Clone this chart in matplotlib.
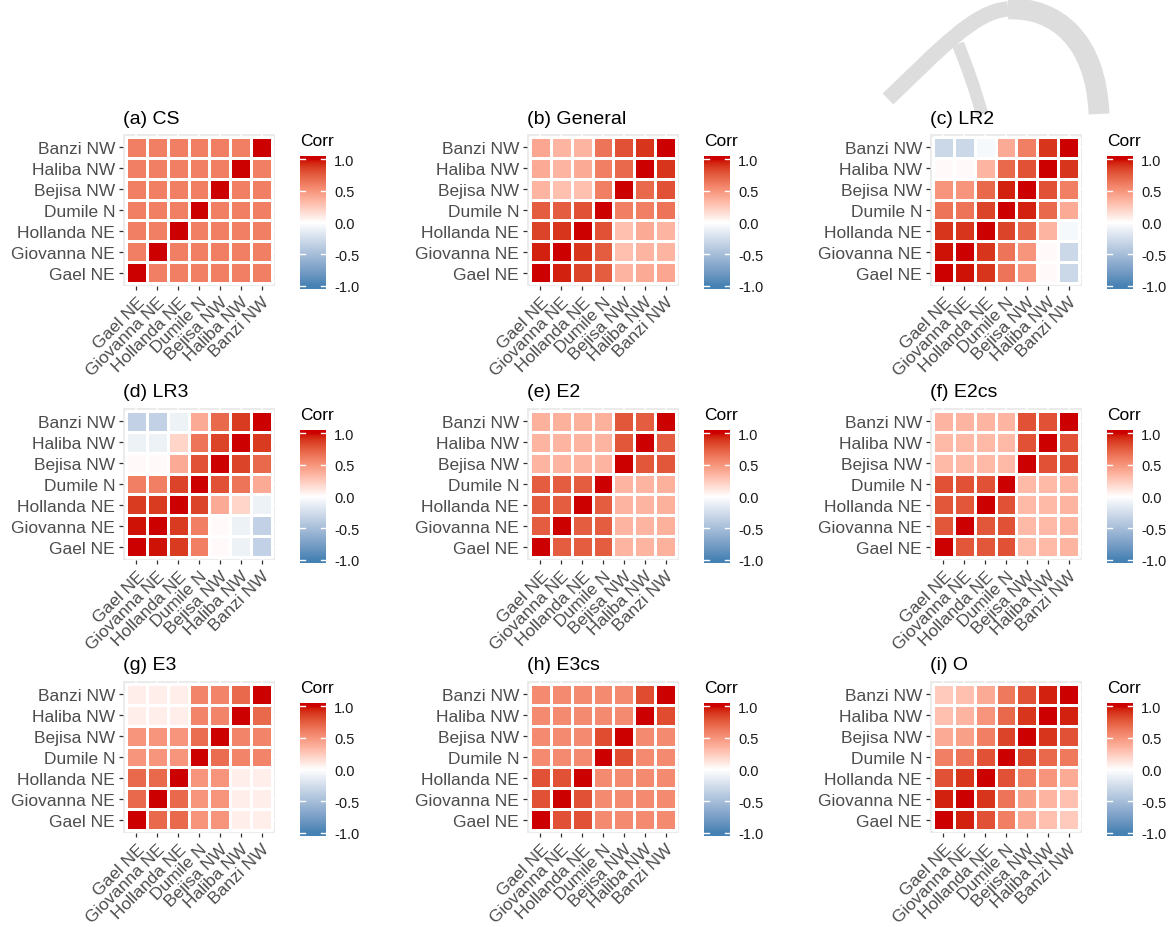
import numpy as np
import matplotlib
matplotlib.use("Agg")
import matplotlib.pyplot as plt
from matplotlib.colors import ListedColormap, Normalize
from matplotlib.path import Path
from matplotlib.patches import PathPatch

plt.rcParams['font.family'] = ['Liberation Sans', 'DejaVu Sans']

# ---------------------------------------------------------------- data
stations = ["Gael NE", "Giovanna NE", "Hollanda NE", "Dumile N",
            "Bejisa NW", "Haliba NW", "Banzi NW"]

cs = [
    [1.00, 0.60, 0.60, 0.60, 0.60, 0.60, 0.60],
    [0.60, 1.00, 0.60, 0.60, 0.60, 0.60, 0.60],
    [0.60, 0.60, 1.00, 0.60, 0.60, 0.60, 0.60],
    [0.60, 0.60, 0.60, 1.00, 0.60, 0.60, 0.60],
    [0.60, 0.60, 0.60, 0.60, 1.00, 0.60, 0.60],
    [0.60, 0.60, 0.60, 0.60, 0.60, 1.00, 0.60],
    [0.60, 0.60, 0.60, 0.60, 0.60, 0.60, 1.00],
]
general = [
    [1.00, 0.95, 0.85, 0.75, 0.35, 0.40, 0.42],
    [0.95, 1.00, 0.90, 0.75, 0.30, 0.35, 0.35],
    [0.85, 0.90, 1.00, 0.80, 0.30, 0.40, 0.35],
    [0.75, 0.75, 0.80, 1.00, 0.60, 0.60, 0.65],
    [0.35, 0.30, 0.30, 0.60, 1.00, 0.70, 0.80],
    [0.40, 0.35, 0.40, 0.60, 0.70, 1.00, 0.90],
    [0.42, 0.35, 0.35, 0.65, 0.80, 0.90, 1.00],
]
lr2 = [
    [1.00, 0.98, 0.90, 0.65, 0.50, 0.02, -0.30],
    [0.98, 1.00, 0.90, 0.65, 0.50, 0.02, -0.30],
    [0.90, 0.90, 1.00, 0.85, 0.70, 0.35, -0.05],
    [0.65, 0.65, 0.85, 1.00, 0.95, 0.70, 0.40],
    [0.50, 0.50, 0.70, 0.95, 1.00, 0.80, 0.60],
    [0.02, 0.02, 0.35, 0.70, 0.80, 1.00, 0.90],
    [-0.30, -0.30, -0.05, 0.40, 0.60, 0.90, 1.00],
]
lr3 = [
    [1.00, 0.98, 0.88, 0.60, 0.02, -0.10, -0.35],
    [0.98, 1.00, 0.88, 0.60, 0.02, -0.10, -0.35],
    [0.88, 0.88, 1.00, 0.85, 0.40, 0.20, -0.10],
    [0.60, 0.60, 0.85, 1.00, 0.80, 0.65, 0.40],
    [0.02, 0.02, 0.40, 0.80, 1.00, 0.85, 0.70],
    [-0.10, -0.10, 0.20, 0.65, 0.85, 1.00, 0.88],
    [-0.35, -0.35, -0.10, 0.40, 0.70, 0.88, 1.00],
]
e2 = [
    [1.00, 0.75, 0.75, 0.75, 0.35, 0.35, 0.37],
    [0.75, 1.00, 0.75, 0.75, 0.35, 0.35, 0.37],
    [0.75, 0.75, 1.00, 0.75, 0.35, 0.35, 0.37],
    [0.75, 0.75, 0.75, 1.00, 0.35, 0.35, 0.37],
    [0.35, 0.35, 0.35, 0.35, 1.00, 0.78, 0.78],
    [0.35, 0.35, 0.35, 0.35, 0.78, 1.00, 0.75],
    [0.37, 0.37, 0.37, 0.37, 0.78, 0.75, 1.00],
]
e2cs = [
    [1.00, 0.78, 0.78, 0.80, 0.33, 0.33, 0.35],
    [0.78, 1.00, 0.78, 0.80, 0.33, 0.33, 0.35],
    [0.78, 0.78, 1.00, 0.80, 0.33, 0.33, 0.35],
    [0.80, 0.80, 0.80, 1.00, 0.33, 0.33, 0.35],
    [0.33, 0.33, 0.33, 0.33, 1.00, 0.80, 0.80],
    [0.33, 0.33, 0.33, 0.33, 0.80, 1.00, 0.80],
    [0.35, 0.35, 0.35, 0.35, 0.80, 0.80, 1.00],
]
e3 = [
    [1.00, 0.70, 0.70, 0.50, 0.50, 0.08, 0.08],
    [0.70, 1.00, 0.70, 0.50, 0.50, 0.08, 0.08],
    [0.70, 0.70, 1.00, 0.50, 0.50, 0.08, 0.08],
    [0.50, 0.50, 0.50, 1.00, 0.68, 0.58, 0.58],
    [0.50, 0.50, 0.50, 0.68, 1.00, 0.58, 0.58],
    [0.08, 0.08, 0.08, 0.58, 0.58, 1.00, 0.70],
    [0.08, 0.08, 0.08, 0.58, 0.58, 0.70, 1.00],
]
e3cs = [
    [1.00, 0.80, 0.80, 0.55, 0.55, 0.55, 0.55],
    [0.80, 1.00, 0.80, 0.55, 0.55, 0.55, 0.55],
    [0.80, 0.80, 1.00, 0.55, 0.55, 0.55, 0.55],
    [0.55, 0.55, 0.55, 1.00, 0.82, 0.55, 0.55],
    [0.55, 0.55, 0.55, 0.82, 1.00, 0.55, 0.55],
    [0.55, 0.55, 0.55, 0.55, 0.55, 1.00, 0.82],
    [0.55, 0.55, 0.55, 0.55, 0.55, 0.82, 1.00],
]
o = [
    [1.00, 0.95, 0.80, 0.60, 0.40, 0.30, 0.25],
    [0.95, 1.00, 0.90, 0.65, 0.45, 0.35, 0.30],
    [0.80, 0.90, 1.00, 0.80, 0.60, 0.50, 0.40],
    [0.60, 0.65, 0.80, 1.00, 0.85, 0.70, 0.63],
    [0.40, 0.45, 0.60, 0.85, 1.00, 0.90, 0.80],
    [0.30, 0.35, 0.50, 0.70, 0.90, 1.00, 0.95],
    [0.25, 0.30, 0.40, 0.63, 0.80, 0.95, 1.00],
]

panel_titles = ["(a) CS", "(b) General", "(c) LR2",
                "(d) LR3", "(e) E2", "(f) E2cs",
                "(g) E3", "(h) E3cs", "(i) O"]
panel_data = [cs, general, lr2, lr3, e2, e2cs, e3, e3cs, o]
legend_breaks = [-1.0, -0.5, 0.0, 0.5, 1.0]
legend_labels = ["-1.0", "-0.5", "0.0", "0.5", "1.0"]

# ------------------------------------------------- diverging Lab palette
_M = np.array([[0.4124564, 0.3575761, 0.1804375],
               [0.2126729, 0.7151522, 0.0721750],
               [0.0193339, 0.1191920, 0.9503041]])
_WHITE = np.array([0.95047, 1.0, 1.08883])


def srgb_to_lab(rgb):
    rgb = np.asarray(rgb, float)
    lin = np.where(rgb <= 0.04045, rgb / 12.92, ((rgb + 0.055) / 1.055) ** 2.4)
    t = (lin @ _M.T) / _WHITE
    d = 6 / 29
    f = np.where(t > d ** 3, np.cbrt(t), t / (3 * d * d) + 4 / 29)
    return np.stack([116 * f[..., 1] - 16,
                     500 * (f[..., 0] - f[..., 1]),
                     200 * (f[..., 1] - f[..., 2])], -1)


def lab_to_srgb(lab):
    fy = (lab[..., 0] + 16) / 116
    f = np.stack([fy + lab[..., 1] / 500, fy, fy - lab[..., 2] / 200], -1)
    d = 6 / 29
    t = np.where(f > d, f ** 3, 3 * d * d * (f - 4 / 29))
    lin = np.clip((t * _WHITE) @ np.linalg.inv(_M).T, 0, 1)
    rgb = np.where(lin <= 0.0031308, 12.92 * lin, 1.055 * lin ** (1 / 2.4) - 0.055)
    return np.clip(rgb, 0, 1)


def hex_rgb(h):
    h = h.lstrip('#')
    return np.array([int(h[i:i + 2], 16) / 255 for i in (0, 2, 4)])


low, mid, high = (srgb_to_lab(hex_rgb(c)) for c in ("#4682B4", "#FFFFFF", "#CD0000"))
s = np.linspace(0, 1, 512)[:, None]
lab = np.where(s < 0.5, low + (mid - low) * (s / 0.5), mid + (high - mid) * ((s - 0.5) / 0.5))
cmap = ListedColormap(lab_to_srgb(lab))
norm = Normalize(-1, 1)

# ---------------------------------------------------------------- layout
W, H = 1174, 928
fig = plt.figure(figsize=(W / 100, H / 100), dpi=100)


def px_axes(left, top, width, height, **kw):
    return fig.add_axes([left / W, 1 - (top + height) / H, width / W, height / H], **kw)


# faint watermark arc in the background
bg = px_axes(0, 0, W, H, zorder=-5)
bg.set_xlim(0, W)
bg.set_ylim(H, 0)
bg.axis('off')
C4 = Path.CURVE4
right_leg = Path([(1099, 115), (1096, 40), (1055, 8), (1008, 10)],
                 [Path.MOVETO, C4, C4, C4])
left_leg = Path([(1008, 10), (975, 12), (940, 50), (888, 100)],
                [Path.MOVETO, C4, C4, C4])
branch = Path([(958, 45), (968, 70), (975, 90), (982, 115)],
              [Path.MOVETO, C4, C4, C4])
bg.add_patch(PathPatch(right_leg, facecolor='none', edgecolor='#DDDDDD',
                       lw=15, capstyle='butt'))
bg.add_patch(PathPatch(left_leg, facecolor='none', edgecolor='#DDDDDD',
                       lw=11, capstyle='butt'))
bg.add_patch(PathPatch(branch, facecolor='none', edgecolor='#DDDDDD',
                       lw=9, capstyle='butt'))

col_left = [126, 530, 933]
row_top = [138, 412, 685]
tile = 146
pad = 3
m = pad / (tile / 7)
n = len(stations)
edges = np.arange(n + 1) - 0.5

for k, (title, mat) in enumerate(zip(panel_titles, panel_data)):
    r, c = divmod(k, 3)
    tl, tt = col_left[c], row_top[r]

    ax = px_axes(tl - pad, tt - pad, tile + 2 * pad, tile + 2 * pad)
    ax.set_facecolor('#EBEBEB')
    ax.pcolormesh(edges, edges, np.array(mat), cmap=cmap, norm=norm,
                  edgecolors='white', linewidth=0.8, zorder=2)
    ax.set_xlim(-0.5 - m, n - 0.5 + m)
    ax.set_ylim(-0.5 - m, n - 0.5 + m)
    ax.set_xticks(range(n))
    ax.set_yticks(range(n))
    ax.grid(True, color='white', linewidth=1.1, zorder=0)
    ax.set_axisbelow(True)
    for sp in ax.spines.values():
        sp.set_visible(False)
    ax.set_xticklabels(stations, rotation=45, ha='right', va='top',
                       rotation_mode='anchor', fontsize=12.5, color='#4D4D4D')
    ax.set_yticklabels(stations, fontsize=12.5, color='#4D4D4D')
    ax.tick_params(length=3.2, width=0.9, color='#333333', pad=2.5)

    fig.text((tl - pad) / W, 1 - (tt - 19) / H, title, fontsize=14,
             ha='left', va='center', color='black')

    # colour bar legend
    cb_left, cb_top = tl + 174, tt + 19
    cax = px_axes(cb_left, cb_top, 26, 133)
    grad = np.linspace(-1.05, 1.05, 300)
    cax.imshow(grad[:, None], aspect='auto', cmap=cmap, norm=norm,
               origin='lower', extent=(0, 1, -1.05, 1.05))
    cax.set_xlim(0, 1)
    cax.set_ylim(-1.05, 1.05)
    for yb in legend_breaks:
        cax.plot([0, 0.2], [yb, yb], color='white', lw=1.0)
        cax.plot([0.8, 1], [yb, yb], color='white', lw=1.0)
    for sp in cax.spines.values():
        sp.set_visible(False)
    cax.set_xticks([])
    cax.yaxis.tick_right()
    cax.set_yticks(legend_breaks)
    cax.set_yticklabels(legend_labels, fontsize=10.5, color='#1A1A1A')
    cax.tick_params(axis='y', length=0, pad=6)
    fig.text(cb_left / W, 1 - (cb_top - 15) / H, "Corr", fontsize=12.5,
             ha='left', va='center', color='black')

fig.savefig("out.png", dpi=100)
